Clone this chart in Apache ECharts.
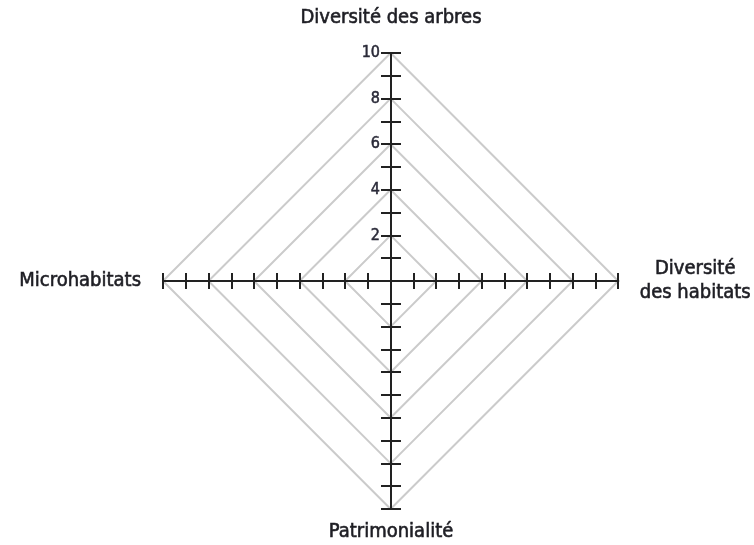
<!DOCTYPE html>
<html>
<head>
<meta charset="utf-8">
<script src="https://cdn.jsdelivr.net/npm/echarts@6/dist/echarts.min.js"></script>
<style>
  html, body { margin: 0; padding: 0; background: #fff; }
  #chart { width: 754px; height: 545px; }
</style>
</head>
<body>
<div id="chart"></div>
<script>
// axis names (top, right, bottom, left)
var axisNames = ['Diversité des arbres', 'Diversité\ndes habitats', 'Patrimonialité', 'Microhabitats'];
// scale of every axis
var axisMax = 10;
// levels where a grey diamond is drawn
var gridLevels = [2, 4, 6, 8, 10];
// tick labels shown on the upper axis
var tickLabels = [2, 4, 6, 8, 10];

var font = "'DejaVu Sans Condensed', 'Liberation Sans Narrow', Roboto, sans-serif";
var ink = '#222';

function diamond(level){
  // corners of one grid ring, in axis units
  return [[0, level], [level, 0], [0, -level], [-level, 0], [0, level]];
}

var series = [];
for (var i = 0; i < gridLevels.length; i++) {
  series.push({
    type: 'line',
    data: diamond(gridLevels[i]),
    symbol: 'none',
    silent: true,
    z: 1,
    lineStyle: { color: '#cbcbcb', width: 2 }
  });
}

function baseAxis(extra){
  var a = {
    type: 'value',
    min: -axisMax,
    max: axisMax,
    interval: 1,
    z: 5,
    splitLine: { show: false },
    axisLine: { show: true, onZero: true, lineStyle: { color: ink, width: 2 } },
    axisTick: { show: true, length: 9, lineStyle: { color: ink, width: 2 } },
    axisLabel: { show: false }
  };
  for (var k in extra) a[k] = extra[k];
  return a;
}

// slightly heavier strokes, like the printed condensed type
var nameStyle = {
  fontFamily: font, fontSize: 20, color: '#1e1e24',
  textBorderColor: '#1e1e24', textBorderWidth: 0.6
};
// half of the plot width: the vertical axes sit at the middle
var half = 228;

var option = {
  animation: false,
  grid: { left: 163, top: 53, width: 456, height: 456 },
  xAxis: [
    baseAxis({
      position: 'bottom',
      name: axisNames[1],
      nameLocation: 'end',
      nameGap: 77,
      nameTextStyle: Object.assign({ align: 'center', verticalAlign: 'middle', lineHeight: 24, padding: [0, 0, 8, 0] }, nameStyle),
      axisTick: { show: true, inside: true, length: 8, lineStyle: { color: ink, width: 2 } }
    }),
    baseAxis({
      position: 'bottom',
      name: axisNames[3],
      nameLocation: 'start',
      nameGap: 22,
      nameTextStyle: Object.assign({ align: 'right', verticalAlign: 'middle', padding: [0, 0, 10, 0] }, nameStyle),
      axisTick: { show: true, inside: false, length: 8, lineStyle: { color: ink, width: 2 } }
    })
  ],
  yAxis: [
    baseAxis({
      position: 'left',
      offset: -half,
      axisLine: { show: true, onZero: false, lineStyle: { color: ink, width: 2 } },
      name: axisNames[0],
      nameLocation: 'end',
      nameGap: 25,
      nameTextStyle: Object.assign({ align: 'center', verticalAlign: 'bottom' }, nameStyle),
      axisTick: { show: true, inside: true, length: 10, lineStyle: { color: ink, width: 2 } },
      axisLabel: {
        show: true,
        margin: 11,
        fontFamily: font,
        fontSize: 16,
        color: '#2a2a38',
        textBorderColor: '#2a2a38',
        textBorderWidth: 0.5,
        formatter: function(v){
          return tickLabels.indexOf(v) >= 0 ? String(v) : '';
        }
      }
    }),
    baseAxis({
      position: 'left',
      offset: -half,
      axisLine: { show: true, onZero: false, lineStyle: { color: ink, width: 2 } },
      name: axisNames[2],
      nameLocation: 'start',
      nameGap: 13,
      nameTextStyle: Object.assign({ align: 'center', verticalAlign: 'top' }, nameStyle),
      axisTick: { show: true, inside: false, length: 10, lineStyle: { color: ink, width: 2 } }
    })
  ],
  series: series
};

var chart = echarts.init(document.getElementById('chart'));
chart.setOption(option);
</script>
</body>
</html>
